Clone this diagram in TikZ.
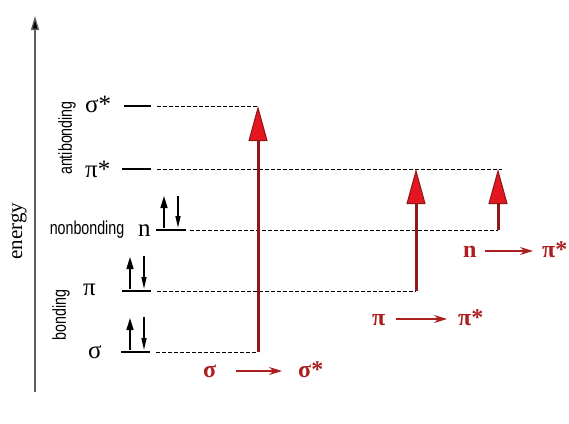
\documentclass[tikz,border=0pt]{standalone}
\usepackage{fontspec}
\setmainfont{Liberation Serif}
\newfontfamily\lsans{Liberation Sans}
\usetikzlibrary{arrows.meta}
\definecolor{shaftred}{RGB}{140,24,28}
\definecolor{headred}{RGB}{228,22,32}
\definecolor{labred}{RGB}{172,30,32}
\definecolor{axisgray}{RGB}{95,95,95}
\begin{document}
\begin{tikzpicture}[x=1pt,y=-1pt,
  axisline/.style={draw=axisgray, line width=1.3pt, -{Triangle[length=14pt,width=8pt,fill=black]}},
  levelbar/.style={line width=2.8pt, black},
  guide/.style={dash pattern=on 3.5pt off 2.5pt, line width=0.9pt, black},
  excite/.style={draw=shaftred, line width=3pt, -{Triangle[length=35pt,width=19pt,fill=headred,line width=1pt]}},
  spinup/.style={line width=1.5pt, -{Triangle[length=12pt,width=7pt]}},
  spindown/.style={line width=1.5pt, -{Triangle[length=12pt,width=5pt]}},
  orb/.style={font=\fontsize{25}{25}\selectfont, inner sep=0pt, anchor=base west},
  sidelab/.style={font=\lsans\fontsize{15}{15}\selectfont, inner sep=0pt},
  translab/.style={font=\bfseries\fontsize{24}{24}\selectfont, text=labred, inner sep=0pt, text height=12pt, text depth=0pt, anchor=base west},
  transarrow/.style={draw=labred, line width=1.2pt, -{Stealth[length=13pt,width=8pt]}},
]
\useasboundingbox[fill=white] (0,0) rectangle (569,423);

% energy axis
\coordinate (ax0) at (35,392);
\coordinate (ax1) at (35,16);
\draw[axisline] (ax0) -- (ax1);
\node[rotate=90, font=\fontsize{21}{21}\selectfont, inner sep=0pt] (energy) at (19,231) {energy};

% side labels
\node[sidelab, rotate=90] (anti) at (67,138) {\scalebox{0.95}[1.25]{antibonding}};
\node[sidelab] (nonb) at (87,230) {\scalebox{0.95}[1.25]{nonbonding}};
\node[sidelab, rotate=90] (bond) at (61,315) {\scalebox{0.95}[1.25]{bonding}};

% orbital labels
\node[orb] (Lss) at (85,112) {σ*};
\node[orb] (Lps) at (85,177) {π*};
\node[orb] (Ln)  at (138,236) {n};
\node[orb] (Lp)  at (83,295) {π};
\node[orb] (Ls)  at (88,358) {σ};

% level bars
\coordinate (ssL) at (124,106); \coordinate (ssR) at (151,106);
\coordinate (psL) at (122,169); \coordinate (psR) at (151,169);
\coordinate (nL)  at (156,230); \coordinate (nR)  at (186,230);
\coordinate (pL)  at (122,291); \coordinate (pR)  at (151,291);
\coordinate (sL)  at (121,352); \coordinate (sR)  at (150,352);
\foreach \a/\b in {ssL/ssR, psL/psR, nL/nR, pL/pR, sL/sR}
  \draw[levelbar] (\a) -- (\b);

% guide line ends
\coordinate (ssG) at (157,106); \coordinate (ssT) at (258,106);
\coordinate (psG) at (157,169); \coordinate (psE) at (502,169);
\coordinate (nG)  at (190,230); \coordinate (nT)  at (498,230);
\coordinate (pG)  at (157,291); \coordinate (pT)  at (416,291);
\coordinate (sG)  at (156,352); \coordinate (sT)  at (258,352);
\coordinate (ppT) at (416,169);
\coordinate (npT) at (498,169);
\draw[guide] (ssG) -- (ssT);
\draw[guide] (psG) -- (psE);
\draw[guide] (nG) -- (nT);
\draw[guide] (pG) -- (pT);
\draw[guide] (sG) -- (sT);

% electrons
\coordinate (nu0) at (164,228); \coordinate (nu1) at (164,196);
\coordinate (nd0) at (178,196); \coordinate (nd1) at (178,228);
\coordinate (pu0) at (130,289); \coordinate (pu1) at (130,257);
\coordinate (pd0) at (144,256); \coordinate (pd1) at (144,289);
\coordinate (su0) at (130,350); \coordinate (su1) at (130,318);
\coordinate (sd0) at (144,317); \coordinate (sd1) at (144,350);
\draw[spinup] (nu0) -- (nu1);
\draw[spindown] (nd0) -- (nd1);
\draw[spinup] (pu0) -- (pu1);
\draw[spindown] (pd0) -- (pd1);
\draw[spinup] (su0) -- (su1);
\draw[spindown] (sd0) -- (sd1);

% excitations
\draw[excite] (sT) -- (ssT);
\draw[excite] (pT) -- (ppT);
\draw[excite] (nT) -- (npT);

% transition labels
\node[translab] (t1a) at (203,377) {σ};
\node[translab] (t1b) at (298,377) {σ*};
\draw[transarrow, shorten <=20pt, shorten >=16pt] (t1a.east) -- (t1b.west);
\node[translab] (t2a) at (372,325) {π};
\node[translab] (t2b) at (458,325) {π*};
\draw[transarrow, shorten <=10pt, shorten >=11pt] (t2a.east) -- (t2b.west);
\node[translab] (t3a) at (463,257) {n};
\node[translab] (t3b) at (542,257) {π*};
\draw[transarrow, shorten <=8pt, shorten >=9pt] (t3a.east) -- (t3b.west);
\end{tikzpicture}
\end{document}
